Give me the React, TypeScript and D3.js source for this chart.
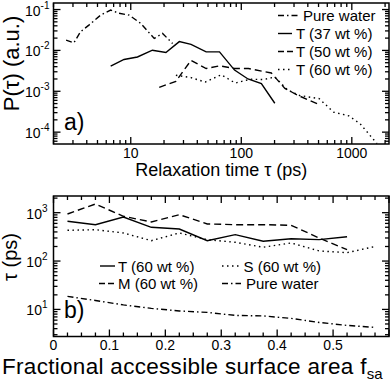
import { useEffect, useRef } from "react";
import * as d3 from "d3";

const width = 392;
const height = 382;

// panel a) distribution of relaxation times P(tau)
const waterTau = [2.6, 3.06, 3.51, 4.18, 5.34, 6.58, 7.83, 9.66, 12.3, 16.3, 19.4, 23.9];
const waterP = [0.0178, 0.0153, 0.0285, 0.0416, 0.073, 0.097, 0.081, 0.073, 0.046, 0.0196, 0.026, 0.0148];
const t37Tau = [6.58, 8.69, 11.5, 15.7, 20.8, 27.5, 35.1, 48.1, 63.5, 86.9, 115, 152, 201];
const t37P = [0.0041, 0.006, 0.0069, 0.0101, 0.0089, 0.0164, 0.014, 0.0092, 0.0092, 0.0033, 0.002, 0.00154, 0.00051];
const t50Tau = [18.1, 25.6, 35.1, 48.1, 63.5, 86.9, 116, 187, 248, 327, 498];
const t50P = [0.00125, 0.00175, 0.0057, 0.0036, 0.0042, 0.0036, 0.0036, 0.0028, 0.00118, 0.00079, 0.00048];
const t60Tau = [25.6, 35.1, 47.1, 65.8, 88.2, 121, 158, 201, 262, 337, 507, 682, 940, 1190, 1690];
const t60P = [0.00246, 0.00216, 0.00168, 0.00253, 0.00159, 0.00198, 0.00193, 0.00223, 0.00108, 0.00079, 0.00066, 0.00031, 0.00025, 0.00016, 0.0000525];

// panel b) mean relaxation time vs fractional accessible surface area
const fsa = [0.025, 0.075, 0.125, 0.175, 0.225, 0.275, 0.325, 0.375, 0.425, 0.475, 0.525, 0.575];
const tauT60 = [664, 565, 815, 499, 460, 264, 351, 256, 290, 277, 319];
const tauM60 = [940, 1513, 843, 643, 909, 585, 565, 565, 549, 300, 172];
const tauS60 = [432, 445, 381, 264, 381, 277, 244, 193, 237, 162, 149, 200];
const tauWater = [18.6, 15.3, 12.4, 10.5, 9.3, 8.67, 7.52, 7.34, 6.52, 5.38, 4.67, 4.25];

const xTicksA = [10, 100, 1000];
const yTicksA = [-1, -2, -3, -4];
const xTicksB = [0, 0.1, 0.2, 0.3, 0.4, 0.5];
const yTicksB = [3, 2, 1];

const dashes: Record<string, string | null> = {
  solid: null,
  dashed: "7,4",
  dotted: "1.5,3.5",
  dashdot: "6,3,1.5,3",
};
const legendDashes: Record<string, string | null> = { ...dashes, dashed: "6,3" };

const font = "'Liberation Sans', Arial, sans-serif";

export default function App() {
  const svgRef = useRef<SVGSVGElement>(null);

  useEffect(() => {
    if (!svgRef.current) return;
    const svg = d3.select(svgRef.current);
    svg.selectAll("*").remove();
    svg.append("rect").attr("width", width).attr("height", height).attr("fill", "#fff");

    const left = 53.5;
    const right = 389;

    // ---------- panel a ----------
    const xA = d3.scaleLog().domain([2.0, 2170]).range([left, right]);
    const yA = d3.scaleLog().domain([Math.pow(10, -4.29), Math.pow(10, -0.84)]).range([144, 3]);
    drawFrame(svg, xA, yA, true);

    const line = d3.line<[number, number]>();
    const addSeries = (xs: number[], ys: number[], sx: any, sy: any, style: string) => {
      const pts = xs.map((x, i) => [sx(x), sy(ys[i])] as [number, number]);
      svg
        .append("path")
        .attr("d", line(pts))
        .attr("fill", "none")
        .attr("stroke", "#000")
        .attr("stroke-width", 1.4)
        .attr("stroke-dasharray", dashes[style]);
    };

    addSeries(waterTau, waterP, xA, yA, "dashdot");
    addSeries(t37Tau, t37P, xA, yA, "solid");
    addSeries(t50Tau, t50P, xA, yA, "dashed");
    addSeries(t60Tau, t60P, xA, yA, "dotted");

    xTicksA.forEach((t) => {
      svg
        .append("text")
        .attr("x", xA(t))
        .attr("y", 157.5)
        .attr("text-anchor", "middle")
        .style("font", `14px ${font}`)
        .text(String(t));
    });
    yTicksA.forEach((e) => powerLabel(svg, 49.5, yA(Math.pow(10, e)), e));

    svg
      .append("text")
      .attr("x", (left + right) / 2)
      .attr("y", 176)
      .attr("text-anchor", "middle")
      .style("font", `18px ${font}`)
      .text("Relaxation time τ (ps)");

    svg
      .append("text")
      .attr("transform", `translate(18.5, 63.5) rotate(-90)`)
      .attr("text-anchor", "middle")
      .style("font", `22px ${font}`)
      .text("P(τ) (a.u.)");

    svg.append("text").attr("x", 64).attr("y", 130).style("font", `23px ${font}`).text("a)");

    const legendA = [
      { label: "Pure water", style: "dashdot", x2: 299, tx: 303 },
      { label: "T (37 wt %)", style: "solid", x2: 292, tx: 296 },
      { label: "T (50 wt %)", style: "dashed", x2: 293, tx: 296 },
      { label: "T (60 wt %)", style: "dotted", x2: 292, tx: 296 },
    ];
    legendA.forEach((d, i) => {
      const cy = 15.5 + i * 18;
      svg
        .append("line")
        .attr("x1", 278)
        .attr("x2", d.x2)
        .attr("y1", cy)
        .attr("y2", cy)
        .attr("stroke", "#000")
        .attr("stroke-width", 1.4)
        .attr("stroke-dasharray", legendDashes[d.style]);
      svg
        .append("text")
        .attr("x", d.tx)
        .attr("y", cy + 5)
        .style("font", `15px ${font}`)
        .text(d.label);
    });

    // ---------- panel b ----------
    const xB = d3.scaleLinear().domain([0, 0.6]).range([left, right]);
    const yB = d3.scaleLog().domain([Math.pow(10, 0.44), Math.pow(10, 3.345)]).range([336.5, 196]);
    drawFrame(svg, xB, yB, false);

    addSeries(fsa.slice(0, tauWater.length), tauWater, xB, yB, "dashdot");
    addSeries(fsa.slice(0, tauS60.length), tauS60, xB, yB, "dotted");
    addSeries(fsa.slice(0, tauM60.length), tauM60, xB, yB, "dashed");
    addSeries(fsa.slice(0, tauT60.length), tauT60, xB, yB, "solid");

    xTicksB.forEach((t) => {
      svg
        .append("text")
        .attr("x", xB(t))
        .attr("y", 350)
        .attr("text-anchor", "middle")
        .style("font", `14px ${font}`)
        .text(t === 0 ? "0" : d3.format(".1f")(t));
    });
    yTicksB.forEach((e) => powerLabel(svg, 47.5, yB(Math.pow(10, e)), e));

    const xl = svg
      .append("text")
      .attr("x", 2)
      .attr("y", 374)
      .style("font", `22.5px ${font}`);
    xl.append("tspan").style("letter-spacing", "0.3px").text("Fractional accessible surface area f");
    xl.append("tspan").attr("dy", 5).style("font-size", "15px").text("sa");

    svg
      .append("text")
      .attr("transform", `translate(17, 257) rotate(-90)`)
      .attr("text-anchor", "middle")
      .style("font", `20px ${font}`)
      .text("τ (ps)");

    svg.append("text").attr("x", 64).attr("y", 317.5).style("font", `23px ${font}`).text("b)");

    const legendB = [
      { label: "T (60 wt %)", style: "solid", x1: 100, x2: 115, tx: 118, row: 0 },
      { label: "M (60 wt %)", style: "dashed", x1: 99, x2: 114, tx: 118, row: 1 },
      { label: "S (60 wt %)", style: "dotted", x1: 222, x2: 240, tx: 243.5, row: 0 },
      { label: "Pure water", style: "dashdot", x1: 222, x2: 241, tx: 246, row: 1 },
    ];
    legendB.forEach((d) => {
      const cy = 266 + d.row * 17.5;
      svg
        .append("line")
        .attr("x1", d.x1)
        .attr("x2", d.x2)
        .attr("y1", cy)
        .attr("y2", cy)
        .attr("stroke", "#000")
        .attr("stroke-width", 1.4)
        .attr("stroke-dasharray", legendDashes[d.style]);
      svg
        .append("text")
        .attr("x", d.tx)
        .attr("y", cy + 5.5)
        .style("font", `15px ${font}`)
        .text(d.label);
    });
  }, []);

  return (
    <svg
      ref={svgRef}
      width={width}
      height={height}
      style={{ position: "absolute", left: 0, top: 0, display: "block" }}
    />
  );
}

function powerLabel(svg: any, x: number, y: number, exp: number) {
  const t = svg
    .append("text")
    .attr("x", x)
    .attr("y", y + 6)
    .attr("text-anchor", "end")
    .style("font", `14px ${font}`);
  t.append("tspan").text("10");
  t.append("tspan").attr("dy", -7).style("font-size", "10px").text(String(exp));
}

function logTicks(scale: any) {
  const [a, b] = scale.domain();
  const out: { v: number; major: boolean }[] = [];
  for (let e = Math.floor(Math.log10(a)); e <= Math.ceil(Math.log10(b)); e++) {
    for (let m = 1; m < 10; m++) {
      const v = m * Math.pow(10, e);
      if (v >= a && v <= b) out.push({ v, major: m === 1 });
    }
  }
  return out;
}

function drawFrame(svg: any, sx: any, sy: any, logX: boolean) {
  const [x0, x1] = sx.range();
  const [y0, y1] = sy.range(); // bottom, top
  const g = svg.append("g").attr("stroke", "#000").attr("stroke-width", 1.3);

  const xt = logX
    ? logTicks(sx)
    : d3.range(0, 0.6001, 0.025).map((v) => ({ v, major: Math.abs(v * 10 - Math.round(v * 10)) < 1e-6 }));
  xt.forEach(({ v, major }) => {
    const x = sx(v);
    const len = major ? 7 : 4;
    g.append("line").attr("x1", x).attr("x2", x).attr("y1", y0).attr("y2", y0 - len);
    g.append("line").attr("x1", x).attr("x2", x).attr("y1", y1).attr("y2", y1 + len);
  });

  logTicks(sy).forEach(({ v, major }) => {
    const y = sy(v);
    const len = major ? 7 : 4;
    g.append("line").attr("x1", x0).attr("x2", x0 + len).attr("y1", y).attr("y2", y);
    g.append("line").attr("x1", x1).attr("x2", x1 - len).attr("y1", y).attr("y2", y);
  });

  g.append("rect")
    .attr("x", x0)
    .attr("y", y1)
    .attr("width", x1 - x0)
    .attr("height", y0 - y1)
    .attr("fill", "none")
    .attr("stroke-width", 1.5);
}
